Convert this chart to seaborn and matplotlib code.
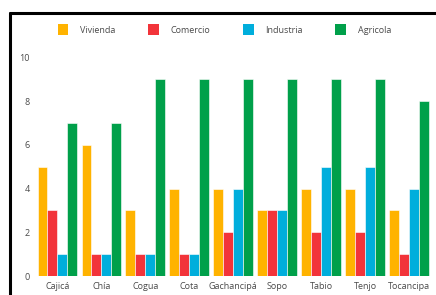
import matplotlib
matplotlib.use("Agg")
import matplotlib.pyplot as plt
from matplotlib.lines import Line2D
from matplotlib.patches import Patch
import seaborn as sns
import pandas as pd

municipios = ["Cajicá", "Chía", "Cogua", "Cota", "Gachancipá", "Sopo", "Tabio", "Tenjo", "Tocancipa"]
vivienda = [5, 6, 3, 4, 4, 3, 4, 4, 3]
comercio = [3, 1, 1, 1, 2, 3, 2, 2, 1]
industria = [1, 1, 1, 1, 4, 3, 5, 5, 4]
agricola = [7, 7, 9, 9, 9, 9, 9, 9, 8]
series = ["Vivienda", "Comercio", "Industria", "Agricola"]
colores = ["#FFB300", "#F2343A", "#00AEDC", "#00A04A"]

df = pd.DataFrame({
    "municipio": municipios * 4,
    "uso": [s for s in series for _ in municipios],
    "valor": vivienda + comercio + industria + agricola,
})

sns.set_style("white")
plt.rcParams["font.family"] = ["Open Sans", "DejaVu Sans"]

fig = plt.figure(figsize=(4.36, 2.95), dpi=100)
ax = fig.add_axes([0.081, 0.064, 0.908, 0.742])
sns.barplot(data=df, x="municipio", y="valor", hue="uso", hue_order=series,
            palette=colores, width=0.9, edgecolor="white", linewidth=0.4,
            saturation=1, legend=False, ax=ax)

ax.set_ylim(0, 10)
ax.set_xlim(-0.5, len(municipios) - 0.5)
ax.set_yticks(range(0, 11, 2))
ax.tick_params(axis="both", length=0, labelsize=6.5, labelcolor="#4a4a4a", pad=4)
ax.set_xlabel("")
ax.set_ylabel("")
for s in ax.spines.values():
    s.set_visible(False)

# marco negro de la imagen original (izquierda y arriba)
fig.add_artist(Line2D([0.024, 0.024], [0, 0.957], color="black", lw=2.2, transform=fig.transFigure))
fig.add_artist(Line2D([0.024, 1.0], [0.957, 0.957], color="black", lw=2.2, transform=fig.transFigure))

handles = [Patch(facecolor=c, edgecolor="none") for c in colores]
fig.legend(handles, series, loc="center left", bbox_to_anchor=(0.132, 0.9), ncol=4,
           frameon=False, fontsize=6.5, handlelength=1.2, handleheight=1.4,
           handletextpad=1.3, columnspacing=3.6, labelcolor="#4a4a4a",
           borderpad=0, borderaxespad=0)

fig.savefig("out.png", dpi=100)
